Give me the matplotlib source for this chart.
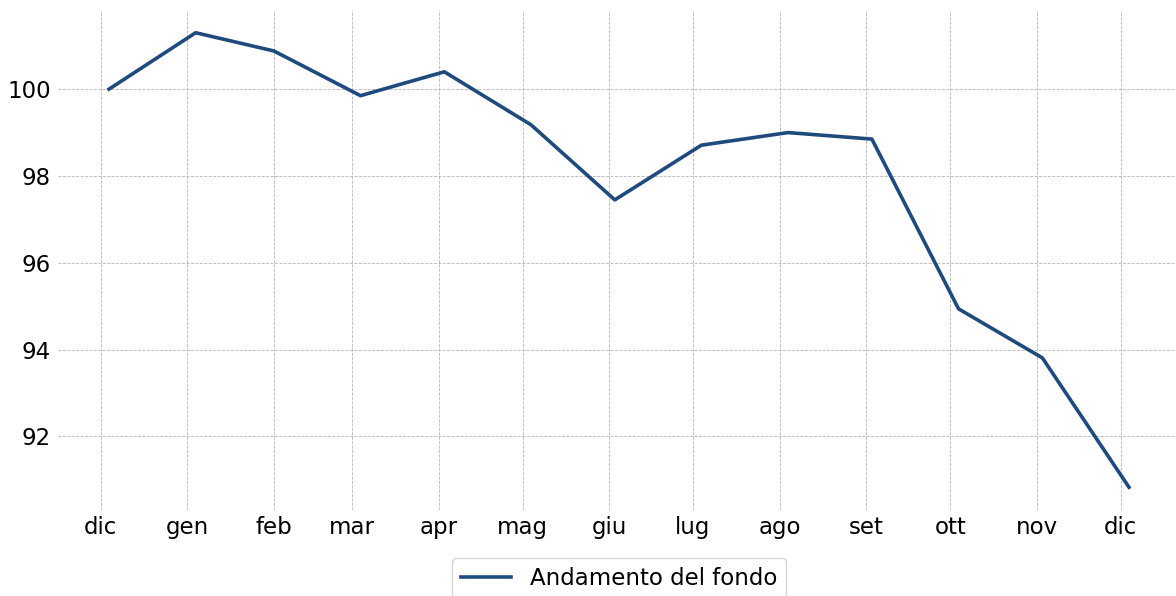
import pandas as pd
import matplotlib
matplotlib.use('Agg')
import matplotlib.pyplot as plt

# Fund value, month-end closes (base 100)
dates = pd.date_range('2021-12-31', periods=13, freq='ME')
values = [100.0, 101.30, 100.88, 99.85, 100.40, 99.18, 97.45,
          98.71, 99.00, 98.85, 94.94, 93.81, 90.83]

# Ticks on day 28 of each month
tick_dates = pd.date_range('2021-12-01', periods=13, freq='MS') + pd.Timedelta(days=27)
tick_labels = ['dic', 'gen', 'feb', 'mar', 'apr', 'mag', 'giu',
               'lug', 'ago', 'set', 'ott', 'nov', 'dic']
series_name = 'Andamento del fondo'

fig = plt.figure(figsize=(11.76, 5.96), dpi=100)
ax = fig.add_axes([58 / 1176, 86 / 596, 1122 / 1176, 500 / 596])

ax.plot(dates, values, color='#1f4a7e', linewidth=2.6, label=series_name)

ax.set_xticks(tick_dates)
ax.set_xticklabels(tick_labels)
ax.set_yticks([92, 94, 96, 98, 100])
ax.tick_params(axis='both', length=0, labelsize=16.5, pad=5)
ax.tick_params(axis='x', pad=4)

ax.grid(True, linestyle='--', linewidth=0.6, color='#b5b5b5')
for s in ax.spines.values():
    s.set_visible(False)

ax.legend(loc='upper center', bbox_to_anchor=(619 / 1176, 1 - 558 / 596),
          bbox_transform=fig.transFigure, borderaxespad=0, fontsize=16.5,
          frameon=True, handlelength=2.2)

fig.savefig('out.png', dpi=100)
